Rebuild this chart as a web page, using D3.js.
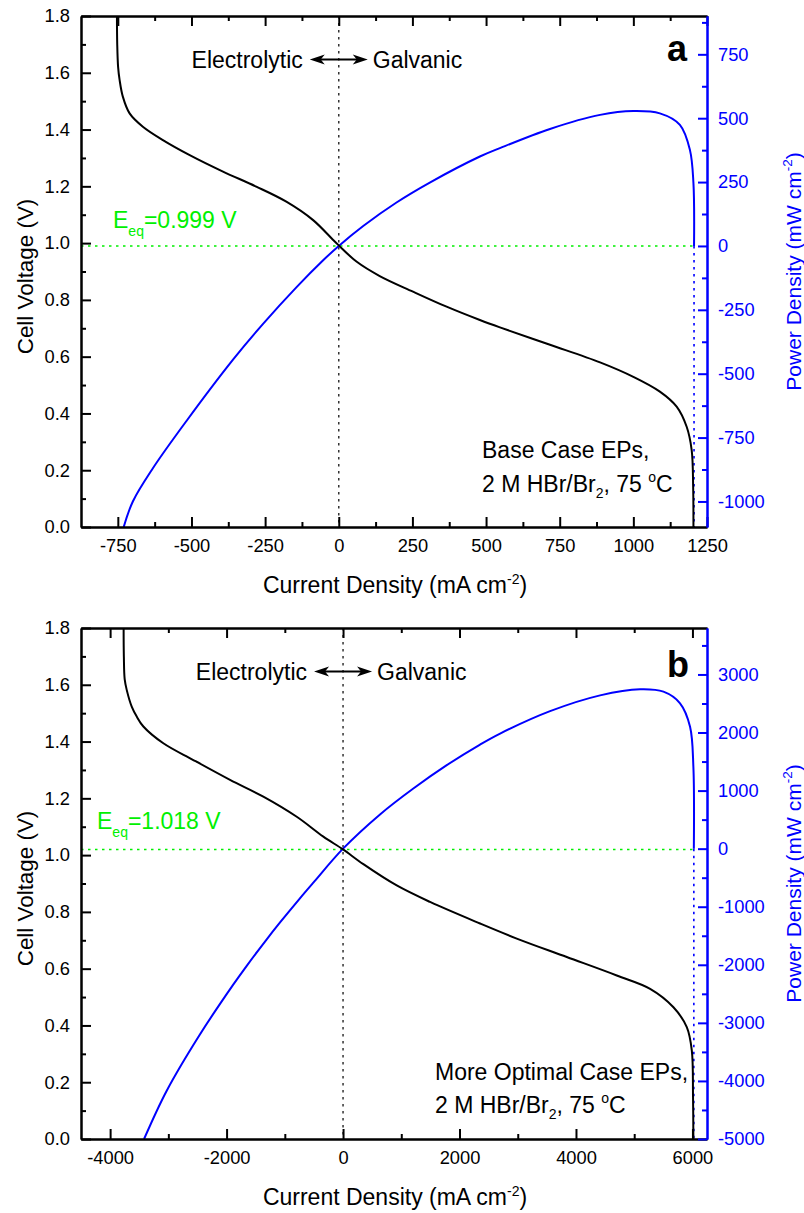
<!DOCTYPE html>
<html><head><meta charset="utf-8">
<script src="https://cdn.jsdelivr.net/npm/d3@7"></script>
<style>
body{margin:0;background:#fff;}
svg{display:block;font-family:"Liberation Sans",Arial,sans-serif;}
</style>
</head><body>
<svg id="chart" width="804" height="1213"></svg>
<script>
// ---------- Panel a data (Base Case) ----------
const currentA = [-753,-752,-749,-744,-733,-710,-665,-597,-506,-393,-280,-178,-87,-19,0,60,139,252,366,479,547,717,887,1000,1090,1147,1181,1198,1203,1204];
const voltageA = [1.80,1.70,1.62,1.575,1.516,1.457,1.410,1.363,1.310,1.252,1.199,1.146,1.081,1.011,0.992,0.935,0.884,0.829,0.776,0.729,0.703,0.642,0.580,0.529,0.477,0.424,0.353,0.271,0.142,0.0];
const powerCurrentA = [-730,-699,-631,-517,-359,-257,-144,-53,0,83,196,309,479,547,717,887,1000,1090,1158,1192,1204,1206];
const powerA = [-1100,-1000,-870,-685,-445,-305,-162,-56,0,78,170,248,350,383,458,513,528,519,474,376,245,0];

// ---------- Panel b data (More Optimal Case) ----------
const currentB = [-3768,-3764,-3750,-3715,-3629,-3543,-3429,-3086,-2571,-1941,-1369,-795,-338,0,349,922,1494,2353,2983,3842,4700,5273,5674,5903,5989,6010,6016];
const voltageB = [1.80,1.70,1.62,1.582,1.523,1.488,1.453,1.394,1.335,1.265,1.206,1.135,1.065,1.020,0.968,0.893,0.835,0.759,0.706,0.641,0.576,0.529,0.464,0.394,0.312,0.150,0.0];
const powerCurrentB = [-3417,-3028,-2461,-1889,-1654,-1317,-1082,-744,-510,0,635,1207,1781,2353,2697,3555,4414,5101,5502,5787,5959,6016,6024];
const powerB = [-5000,-4168,-3204,-2346,-2017,-1569,-1271,-859,-585,0,590,1036,1438,1793,1982,2368,2640,2746,2704,2504,2100,1410,0];

// ---------- Axis ticks ----------
const voltTicks = [0,0.2,0.4,0.6,0.8,1.0,1.2,1.4,1.6,1.8];
const voltMinor = [0.1,0.3,0.5,0.7,0.9,1.1,1.3,1.5,1.7];
const xTicksA = [-750,-500,-250,0,250,500,750,1000,1250];
const xMinorA = [-625,-375,-125,125,375,625,875,1125];
const pTicksA = [-1000,-750,-500,-250,0,250,500,750];
const pMinorA = [-875,-625,-375,-125,125,375,625,875];
const xTicksB = [-4000,-2000,0,2000,4000,6000];
const xMinorB = [-3000,-1000,1000,3000,5000];
const pTicksB = [-5000,-4000,-3000,-2000,-1000,0,1000,2000,3000];
const pMinorB = [-4500,-3500,-2500,-1500,-500,500,1500,2500,3500];

// ---------- Labels ----------
const panelLetters = ["a","b"];
const eqVoltage = [0.99, 1.02];
const eqLabels = ["=0.999 V", "=1.018 V"];
const caseLabels = ["Base Case EPs,", "More Optimal Case EPs,"];

const BLUE = "#0000ff", GREEN = "#00f000";
const svg = d3.select("#chart");
const W = 626, H = 511;

const panels = [
  {top:16, xDomain:[-875,1250], pDomain:[-1100,900], cur:currentA, volt:voltageA, pc:powerCurrentA, pw:powerA,
   xTicks:xTicksA, xMinor:xMinorA, pTicks:pTicksA, pMinor:pMinorA, letter:panelLetters[0], eqV:eqVoltage[0], eqL:eqLabels[0],
   caseL:caseLabels[0], eqPos:[32,212], casePos:[401,442,476], letterY:45},
  {top:628, xDomain:[-4500,6250], pDomain:[-5000,3800], cur:currentB, volt:voltageB, pc:powerCurrentB, pw:powerB,
   xTicks:xTicksB, xMinor:xMinorB, pTicks:pTicksB, pMinor:pMinorB, letter:panelLetters[1], eqV:eqVoltage[1], eqL:eqLabels[1],
   caseL:caseLabels[1], eqPos:[16,201], casePos:[354,452,485], letterY:49}
];

function styleAxis(g, color, fs){
  g.attr("font-family", null).attr("font-size", null);
  g.selectAll("path.domain").attr("stroke", color).attr("stroke-width", 2);
  g.selectAll(".tick line").attr("stroke", color).attr("stroke-width", 2);
  g.selectAll(".tick text").attr("fill", color).style("font-size", fs + "px");
}

panels.forEach((p, i) => {
  const g = svg.append("g").attr("transform", `translate(81,${p.top})`);
  const x = d3.scaleLinear().domain(p.xDomain).range([0, W]);
  const y = d3.scaleLinear().domain([0, 1.8]).range([H, 0]);
  const y2 = d3.scaleLinear().domain(p.pDomain).range([H, 0]);

  const clipId = "clip" + i;
  g.append("clipPath").attr("id", clipId).append("rect").attr("width", W).attr("height", H);

  // reference lines
  const xEnd = p.pc[p.pc.length - 1];
  g.append("line").attr("x1", x(0)).attr("x2", x(0)).attr("y1", 0).attr("y2", H)
    .attr("stroke", "#333").attr("stroke-width", 1.5).attr("stroke-dasharray", "2.5,4.5");
  g.append("line").attr("x1", 0).attr("x2", x(xEnd)).attr("y1", y(p.eqV)).attr("y2", y(p.eqV))
    .attr("stroke", GREEN).attr("stroke-width", 1.6).attr("stroke-dasharray", "2.5,4.5");
  g.append("line").attr("x1", x(xEnd)).attr("x2", x(xEnd)).attr("y1", y2(0)).attr("y2", H)
    .attr("stroke", BLUE).attr("stroke-width", 1.6).attr("stroke-dasharray", "2.5,4.5");

  // curves
  const vLine = d3.line().x(d => x(d[0])).y(d => y(d[1])).curve(d3.curveCatmullRom.alpha(0.5));
  const pLine = d3.line().x(d => x(d[0])).y(d => y2(d[1])).curve(d3.curveCatmullRom.alpha(0.5));
  const cg = g.append("g").attr("clip-path", `url(#${clipId})`);
  cg.append("path").datum(d3.zip(p.pc, p.pw)).attr("d", pLine)
    .attr("fill", "none").attr("stroke", BLUE).attr("stroke-width", 2);
  cg.append("path").datum(d3.zip(p.cur, p.volt)).attr("d", vLine)
    .attr("fill", "none").attr("stroke", "#000").attr("stroke-width", 2);

  // axes
  const fmtInt = d => String(d);
  const bx = g.append("g").attr("transform", `translate(0,${H})`)
    .call(d3.axisBottom(x).tickValues(p.xTicks).tickSize(-10).tickSizeOuter(0).tickPadding(12).tickFormat(fmtInt));
  styleAxis(bx, "#000", 18.3);
  const bxm = g.append("g").attr("transform", `translate(0,${H})`)
    .call(d3.axisBottom(x).tickValues(p.xMinor).tickSize(-5).tickSizeOuter(0).tickFormat(""));
  styleAxis(bxm, "#000", 18);
  const tx = g.append("g").call(d3.axisTop(x).tickValues(p.xTicks).tickSize(-10).tickSizeOuter(0).tickFormat(""));
  styleAxis(tx, "#000", 18);
  const txm = g.append("g").call(d3.axisTop(x).tickValues(p.xMinor).tickSize(-5).tickSizeOuter(0).tickFormat(""));
  styleAxis(txm, "#000", 18);
  const ly = g.append("g").call(d3.axisLeft(y).tickValues(voltTicks).tickSize(-10).tickSizeOuter(0).tickPadding(11).tickFormat(d3.format(".1f")));
  styleAxis(ly, "#000", 18.3);
  const lym = g.append("g").call(d3.axisLeft(y).tickValues(voltMinor).tickSize(-5).tickSizeOuter(0).tickFormat(""));
  styleAxis(lym, "#000", 18);
  const ry = g.append("g").attr("transform", `translate(${W},0)`)
    .call(d3.axisRight(y2).tickValues(p.pTicks).tickSize(-9).tickSizeOuter(0).tickPadding(11).tickFormat(fmtInt));
  styleAxis(ry, BLUE, 18.3);
  const rym = g.append("g").attr("transform", `translate(${W},0)`)
    .call(d3.axisRight(y2).tickValues(p.pMinor).tickSize(-5).tickSizeOuter(0).tickFormat(""));
  styleAxis(rym, BLUE, 18);

  // axis titles
  const xt = g.append("text").attr("x", W / 2 + 1).attr("y", H + 66).attr("text-anchor", "middle")
    .style("font-size", "23px").attr("fill", "#000");
  xt.append("tspan").text("Current Density (mA cm");
  xt.append("tspan").attr("dy", -9).style("font-size", "14px").text("-2");
  xt.append("tspan").attr("dy", 9).text(")");

  g.append("text").attr("transform", `translate(-48,${H / 2 + 5}) rotate(-90)`).attr("text-anchor", "middle")
    .style("font-size", "22.4px").attr("fill", "#000").text("Cell Voltage (V)");

  const rt = g.append("text").attr("transform", `translate(720,${H / 2}) rotate(-90)`).attr("text-anchor", "middle")
    .style("font-size", "21px").attr("fill", BLUE);
  rt.append("tspan").text("Power Density (mW cm");
  rt.append("tspan").attr("dy", -9).style("font-size", "13.5px").text("-2");
  rt.append("tspan").attr("dy", 9).text(")");

  // annotations
  const x0 = x(0);
  g.append("text").attr("x", x0 - 36).attr("y", 52).attr("text-anchor", "end")
    .style("font-size", "23px").text("Electrolytic");
  g.append("text").attr("x", x0 + 34).attr("y", 52).attr("text-anchor", "start")
    .style("font-size", "23px").text("Galvanic");
  const ay = 43.5;
  g.append("line").attr("x1", x0 - 24).attr("x2", x0 + 24).attr("y1", ay).attr("y2", ay)
    .attr("stroke", "#000").attr("stroke-width", 1.8);
  const ah = (tip, dir) => `M${tip},${ay} L${tip + dir * 15},${ay - 5} L${tip + dir * 11},${ay} L${tip + dir * 15},${ay + 5} Z`;
  g.append("path").attr("d", ah(x0 - 29, 1)).attr("fill", "#000");
  g.append("path").attr("d", ah(x0 + 29, -1)).attr("fill", "#000");

  g.append("text").attr("x", 586).attr("y", p.letterY).style("font-size", "36px").style("font-weight", "bold")
    .text(p.letter);

  const eq = g.append("text").attr("x", p.eqPos[0]).attr("y", p.eqPos[1]).attr("fill", GREEN).style("font-size", "23px");
  eq.append("tspan").text("E");
  eq.append("tspan").attr("dy", 8).style("font-size", "14px").text("eq");
  eq.append("tspan").attr("dy", -8).text(p.eqL);

  g.append("text").attr("x", p.casePos[0]).attr("y", p.casePos[1]).style("font-size", "23px").text(p.caseL);
  const c2 = g.append("text").attr("x", p.casePos[0]).attr("y", p.casePos[2]).style("font-size", "23px");
  c2.append("tspan").text("2 M HBr/Br");
  c2.append("tspan").attr("dy", 6).style("font-size", "14px").text("2");
  c2.append("tspan").attr("dy", -6).text(", 75 ");
  c2.append("tspan").attr("dy", -10).style("font-size", "14px").text("o");
  c2.append("tspan").attr("dy", 10).text("C");
});
</script>
</body></html>
